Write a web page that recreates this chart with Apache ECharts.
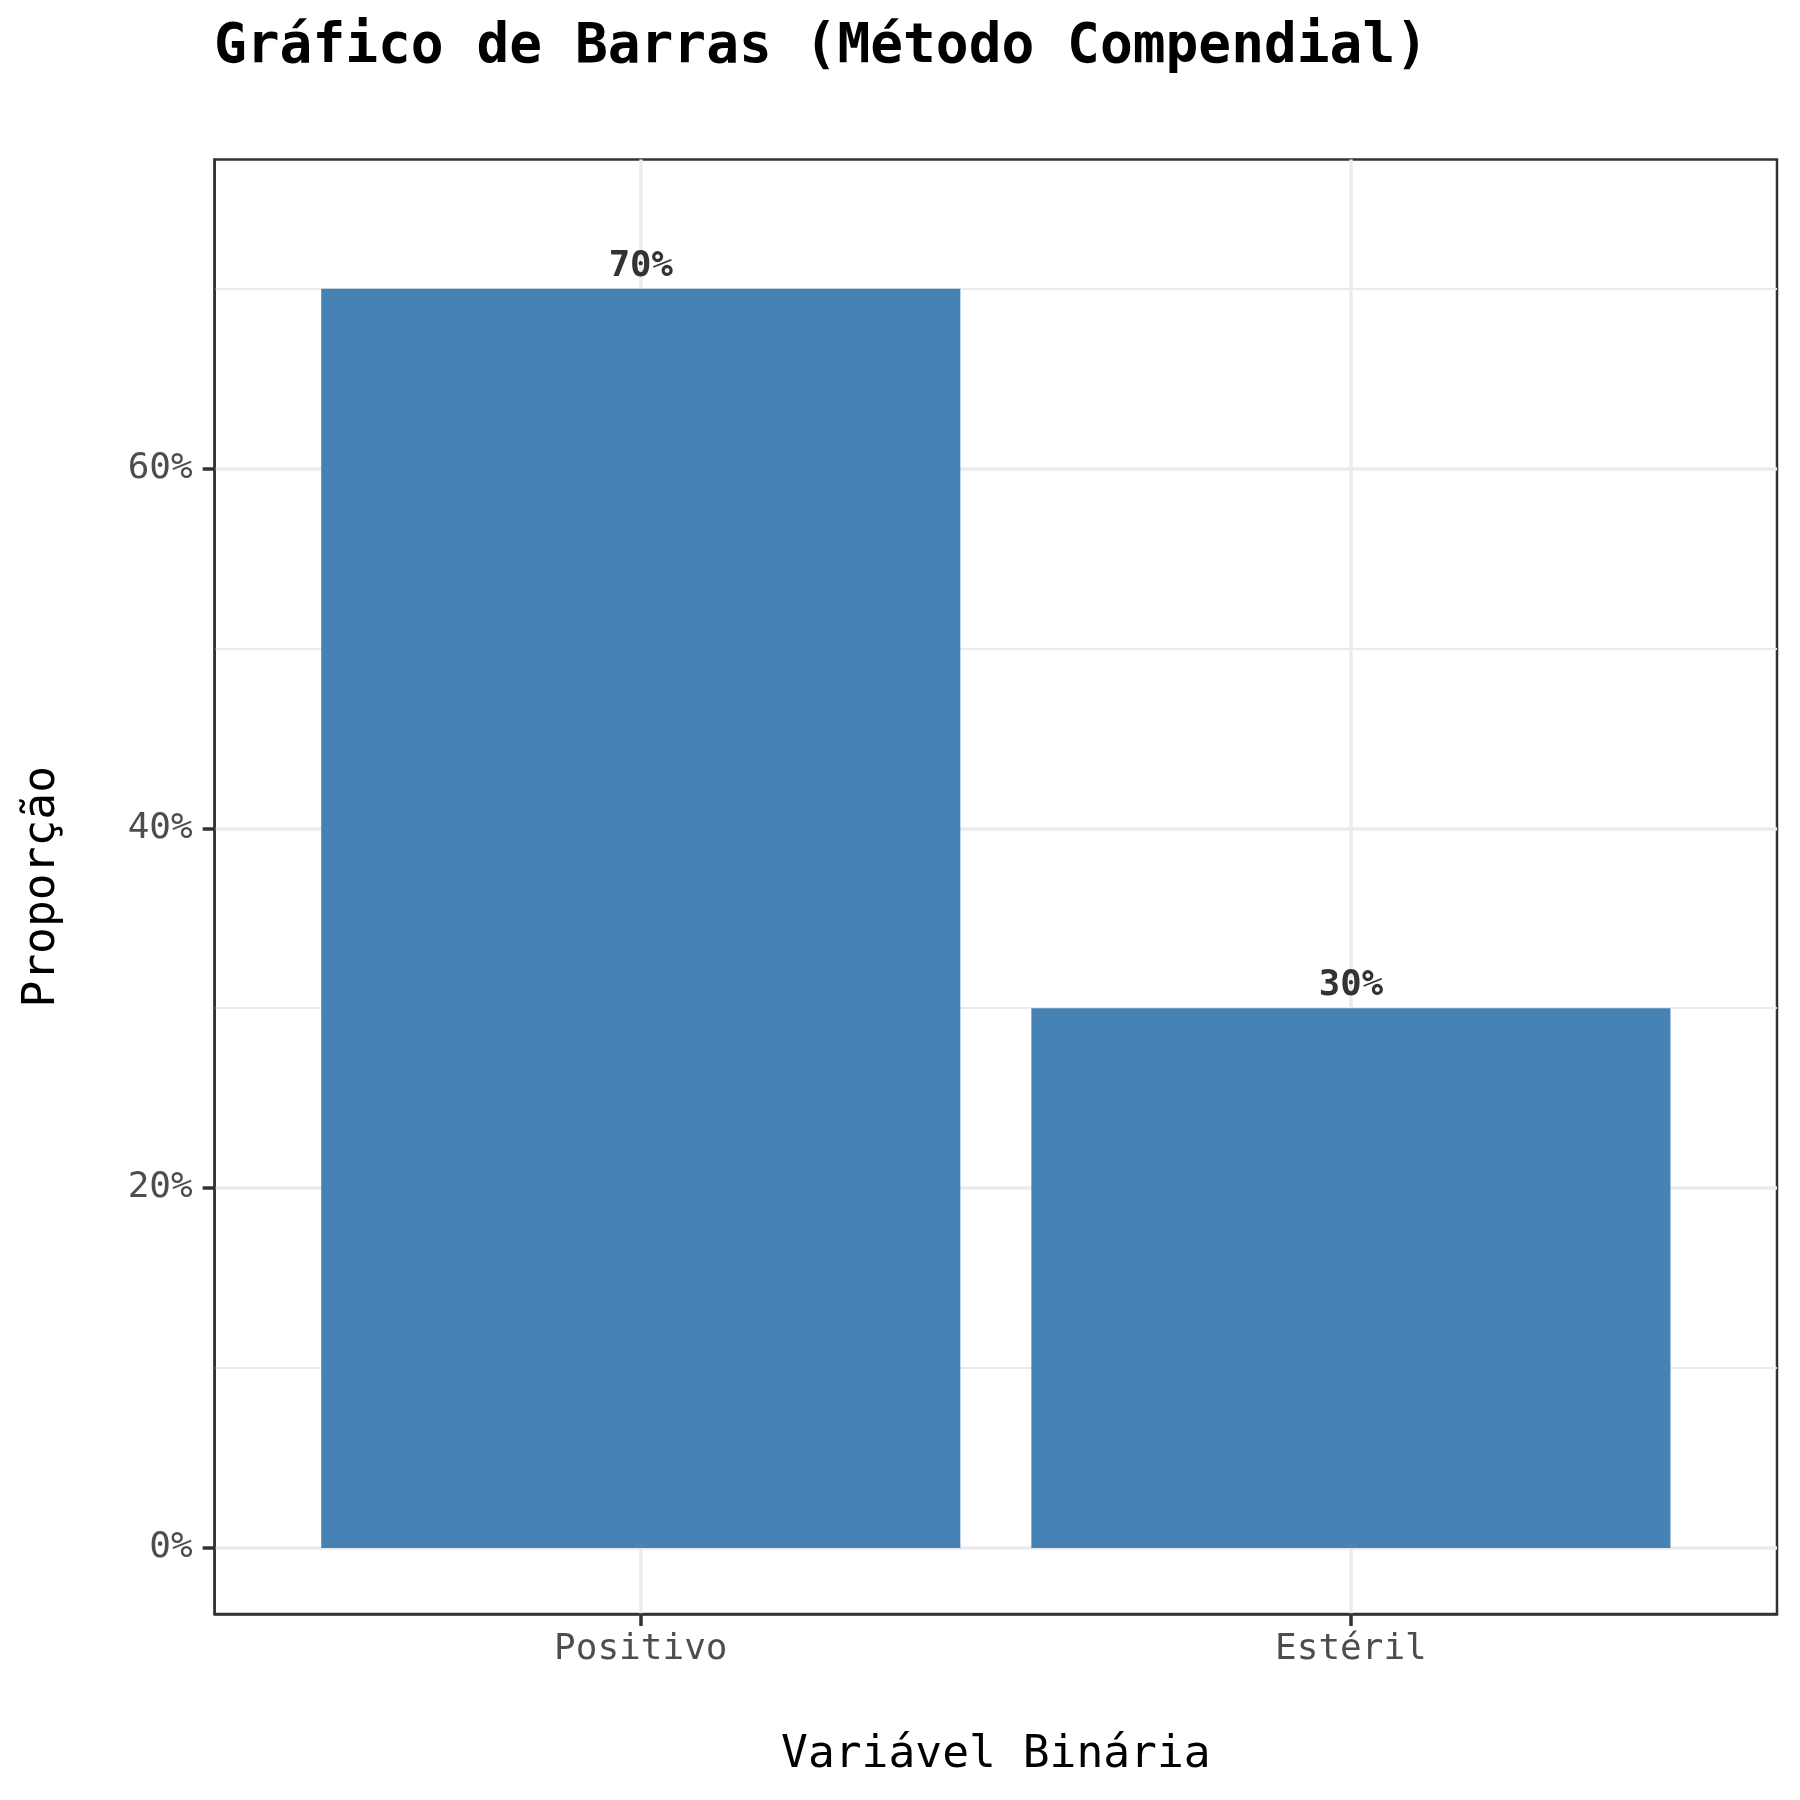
<!DOCTYPE html>
<html>
<head>
<meta charset="utf-8">
<script src="https://cdn.jsdelivr.net/npm/echarts@6/dist/echarts.min.js"></script>
<style>html,body{margin:0;padding:0;background:#fff}#c{width:1800px;height:1800px}</style>
</head>
<body>
<div id="c"></div>
<script>
const categories = ['Positivo', 'Estéril'];
const values = [70, 30];
const yTicks = [0, 20, 40, 60];
const yMinor = [10, 30, 50, 70];
const titleText = 'Gráfico de Barras (Método Compendial)';
const xTitle = 'Variável Binária';
const yTitle = 'Proporção';

const FONT = 'DejaVu Sans Mono';
const positions = categories.map((c, i) => i + 1);
const chart = echarts.init(document.getElementById('c'), null, {renderer: 'canvas'});
const grid = {left: 214.7, top: 159.6, width: 1562.3, height: 1454.4};
const xMin = 0.4, xMax = categories.length + 0.6;
const yMin = -3.675, yMax = 77.175;
const pxPerUnit = grid.width / (xMax - xMin);

chart.setOption({
  backgroundColor: '#ffffff',
  animation: false,
  title: {
    text: titleText, left: 214, top: 20, padding: 0,
    textStyle: {fontFamily: FONT, fontWeight: 'bold', fontSize: 54.5, color: '#000'}
  },
  grid: Object.assign({show: true, borderColor: '#333333', borderWidth: 2.5, backgroundColor: '#fff',
    outerBoundsMode: 'none', containLabel: false}, grid),
  xAxis: {
    type: 'value', min: xMin, max: xMax,
    name: xTitle, nameLocation: 'middle', nameGap: 119,
    nameTextStyle: {fontFamily: FONT, fontSize: 44.6, color: '#000'},
    axisLine: {show: true, onZero: false, lineStyle: {color: '#333333', width: 2.5}},
    axisTick: {show: true, length: 12, customValues: positions, lineStyle: {color: '#333333', width: 3.5}},
    axisLabel: {customValues: positions, margin: 18, fontFamily: FONT, fontSize: 36, color: '#4D4D4D',
      formatter: v => categories[Math.round(v) - 1] || ''},
    splitLine: {show: true, lineStyle: {color: '#EBEBEB', width: 3.5}}
  },
  yAxis: [{
    type: 'value', min: yMin, max: yMax,
    name: yTitle, nameLocation: 'middle', nameGap: 150, nameRotate: 90,
    nameTextStyle: {fontFamily: FONT, fontSize: 44.6, color: '#000'},
    axisLine: {show: true, onZero: false, lineStyle: {color: '#333333', width: 2.5}},
    axisTick: {show: true, length: 12, customValues: yTicks, lineStyle: {color: '#333333', width: 3.5}},
    axisLabel: {customValues: yTicks, margin: 22, fontFamily: FONT, fontSize: 36, color: '#4D4D4D',
      formatter: v => Math.round(v) + '%'},
    splitLine: {show: true, lineStyle: {color: '#EBEBEB', width: 3.5}}
  }, {
    type: 'value', min: yMin, max: yMax, position: 'left',
    axisLine: {show: false}, axisLabel: {show: false},
    axisTick: {show: false, customValues: yMinor},
    splitLine: {show: true, lineStyle: {color: '#EBEBEB', width: 1.8}}
  }],
  series: [{
    type: 'bar',
    data: positions.map((p, i) => [p, values[i]]),
    barWidth: 0.9 * pxPerUnit,
    itemStyle: {color: '#4682B4'},
    label: {
      show: true, position: 'top', distance: 4,
      fontFamily: FONT, fontWeight: 'bold', fontSize: 35.6, color: '#333333',
      formatter: p => p.value[1] + '%'
    }
  }]
});
</script>
</body>
</html>
